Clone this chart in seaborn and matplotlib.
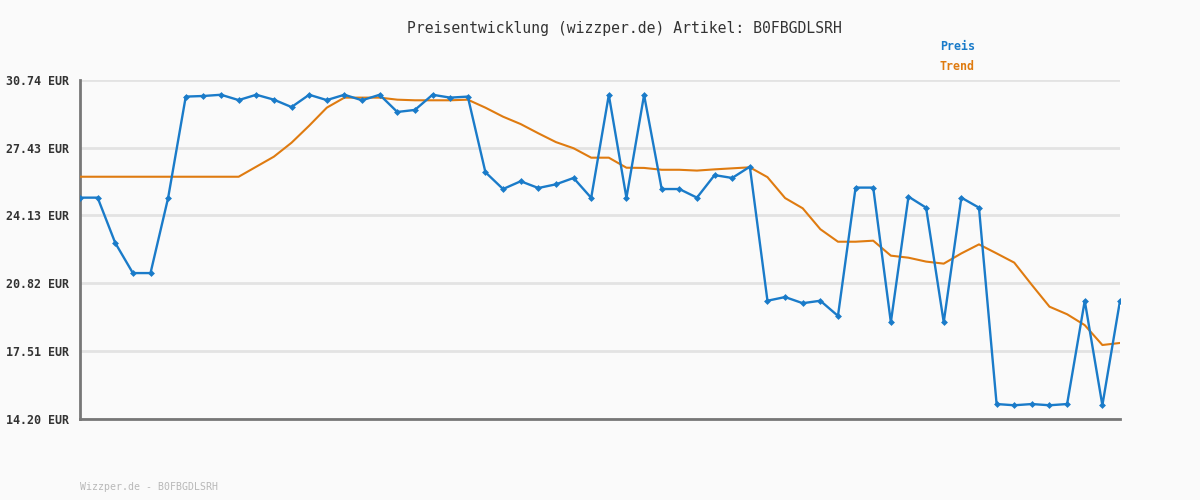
import numpy as np
import pandas as pd
import matplotlib
matplotlib.use("Agg")
import matplotlib.pyplot as plt
import seaborn as sns

# Preisdaten
preis = [25.00, 25.00, 22.79, 21.32, 21.32, 24.99, 29.93, 29.96, 30.02, 29.76,
         30.02, 29.78, 29.42, 30.02, 29.76, 30.02, 29.75, 30.02, 29.18, 29.28,
         30.02, 29.88, 29.93, 26.24, 25.42, 25.80, 25.47, 25.65, 25.96, 24.99,
         30.01, 24.99, 30.01, 25.42, 25.42, 25.00, 26.10, 25.96, 26.51, 19.97,
         20.15, 19.85, 19.97, 19.23, 25.49, 25.49, 18.92, 25.05, 24.51, 18.92,
         25.00, 24.51, 14.93, 14.87, 14.93, 14.87, 14.93, 19.97, 14.87, 19.97]

trend = [26.02, 26.02, 26.02, 26.02, 26.02, 26.02, 26.02, 26.02, 26.02, 26.02,
         26.51, 27.00, 27.68, 28.51, 29.39, 29.88, 29.88, 29.88, 29.78, 29.75,
         29.75, 29.75, 29.78, 29.39, 28.95, 28.59, 28.14, 27.71, 27.41, 26.95,
         26.95, 26.46, 26.45, 26.36, 26.36, 26.32, 26.38, 26.43, 26.48, 26.00,
         24.98, 24.48, 23.46, 22.85, 22.85, 22.90, 22.17, 22.07, 21.88, 21.78,
         22.28, 22.72, 22.28, 21.83, 20.74, 19.68, 19.31, 18.78, 17.81, 17.91]

y_ticks = [14.20, 17.51, 20.82, 24.13, 27.43, 30.74]
titel = "Preisentwicklung (wizzper.de) Artikel: B0FBGDLSRH"
fusszeile = "Wizzper.de - B0FBGDLSRH"

blau = "#1a7bc9"
orange = "#df7b10"
hintergrund = "#fafafa"

df = pd.DataFrame({"Index": np.arange(len(preis)), "Preis": preis, "Trend": trend})

sns.set_theme(style="white")
plt.rcParams["font.family"] = ["DejaVu Sans Mono"]

fig = plt.figure(figsize=(12, 5), dpi=100, facecolor=hintergrund)
ax = fig.add_axes([80 / 1200, 1 - 419 / 500, 1040 / 1200, 339 / 500])
ax.set_facecolor(hintergrund)

sns.lineplot(data=df, x="Index", y="Trend", color=orange, linewidth=1.5, ax=ax, zorder=3)
sns.lineplot(data=df, x="Index", y="Preis", color=blau, linewidth=1.7, marker="D",
             markersize=3.5, markeredgewidth=0, ax=ax, zorder=4)

ax.set_xlim(0, len(preis) - 1)
ax.set_ylim(y_ticks[0], y_ticks[-1])
ax.set_yticks(y_ticks)
ax.set_yticklabels([f"{v:.2f} EUR" for v in y_ticks], fontsize=8.4,
                   fontweight="bold", color="#333333")
ax.set_xticks([])
ax.set_xlabel("")
ax.set_ylabel("")
ax.tick_params(axis="y", length=0, pad=8)
ax.grid(axis="y", color="#e3e3e3", linewidth=2)
ax.set_axisbelow(True)

for s in ["top", "right"]:
    ax.spines[s].set_visible(False)
for s in ["left", "bottom"]:
    ax.spines[s].set_color("#777777")
    ax.spines[s].set_linewidth(2)

fig.text(624 / 1200, 1 - 28 / 500, titel, ha="center", va="center",
         fontsize=10.6, color="#333333")
fig.text(940 / 1200, 1 - 46 / 500, "Preis", ha="left", va="center",
         fontsize=8.4, fontweight="bold", color=blau)
fig.text(940 / 1200, 1 - 67 / 500, "Trend", ha="left", va="center",
         fontsize=8.4, fontweight="bold", color=orange)
fig.text(80 / 1200, 1 - 487 / 500, fusszeile, ha="left", va="center",
         fontsize=7.1, color="#b8b8b8")

plt.savefig("out.png", dpi=100, facecolor=hintergrund)
